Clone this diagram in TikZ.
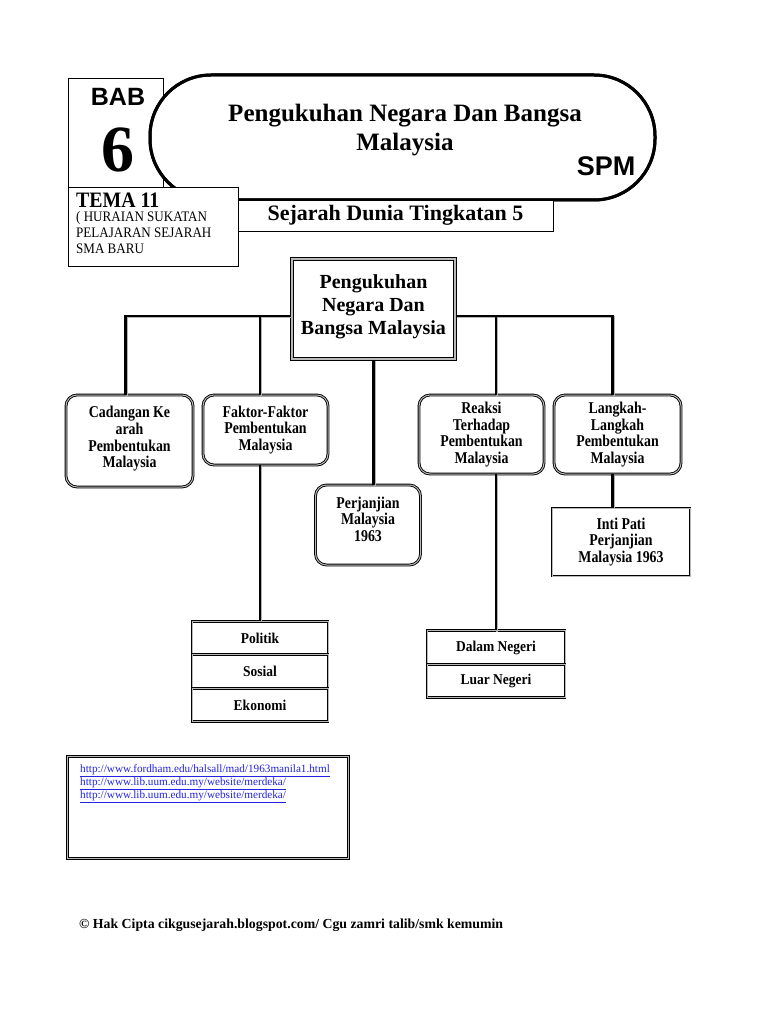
\documentclass[tikz,border=0pt]{standalone}
\usepackage{fontspec}
\setmainfont{Liberation Serif}
\newfontfamily\sansfont{Liberation Sans}
\newfontfamily\condfont[FakeStretch=0.84]{Liberation Serif}
\newfontfamily\semifont[FakeStretch=0.9]{Liberation Serif}
\usetikzlibrary{calc}
\definecolor{linkblue}{RGB}{35,35,225}
\begin{document}
\begin{tikzpicture}[x=1pt,y=-1pt,
  dbl/.style={draw=black, line width=0.9pt, double=gray!55, double distance=1pt, fill=white},
  rbox/.style={dbl, rounded corners=11pt, align=center, font=\condfont\fontsize{16.5}{16.7}\selectfont\bfseries, inner sep=0pt},
  sbox/.style={dbl, align=center, font=\condfont\fontsize{16.5}{16.7}\selectfont\bfseries, inner sep=0pt},
  lbox/.style={dbl, align=center, font=\semifont\fontsize{15}{16}\selectfont\bfseries, inner sep=0pt},
  conn/.style={draw=black, line width=2.3pt, preaction={draw=gray!60, line width=2.3pt, transform canvas={shift={(1.3pt,-1.3pt)}}}},
  plain/.style={draw=black, line width=0.7pt, fill=white},
  link/.style={anchor=west, inner sep=0pt, text=linkblue, font=\fontsize{11.2}{13}\selectfont},
  small/.style={anchor=base west, inner sep=0pt, font=\semifont\fontsize{14.5}{15}\selectfont},
]
\useasboundingbox (0,0) rectangle (768,1024);
\fill[white] (0,0) rectangle (768,1024);

% header
\node[plain, minimum width=95pt, minimum height=109pt, inner sep=0pt] (babbox) at (115.5,132.5) {};
\draw[line width=3pt, fill=white, rounded corners=61pt] (150,75) rectangle (655,200);
\node[font=\sansfont\fontsize{27}{28}\selectfont\bfseries, inner sep=0pt] (spm) at (606,166) {SPM};
\draw[line width=3pt, rounded corners=61pt] (150,75) rectangle (655,200);
\node[plain, minimum width=170pt, minimum height=79pt, inner sep=0pt] (temabox) at (153,226.5) {};
\node[plain, minimum width=315pt, minimum height=31pt, inner sep=0pt, font=\fontsize{22}{22}\selectfont\bfseries] (dunia) at (395.5,215.5) {Sejarah Dunia Tingkatan 5};
\node[font=\sansfont\fontsize{25}{26}\selectfont\bfseries, inner sep=0pt] (bab) at (118,97) {BAB};
\node[font=\fontsize{66}{66}\selectfont\bfseries, inner sep=0pt] (six) at (118,150) {6};
\node[align=center, font=\fontsize{25}{29}\selectfont\bfseries, inner sep=0pt] (title) at (405,130) {Pengukuhan Negara Dan Bangsa\\Malaysia};
\node[anchor=base west, font=\semifont\fontsize{22}{22}\selectfont\bfseries, inner sep=0pt] (tema) at (76,208) {TEMA 11};
\node[small] (hur1) at (76,222) {( HURAIAN SUKATAN};
\node[small] (hur2) at (76,237.5) {PELAJARAN SEJARAH};
\node[small] (hur3) at (76,253) {SMA BARU};

% main
\node[draw=black, fill=white, line width=1.6pt, double=gray!55, double distance=1.6pt, minimum width=163pt, minimum height=100pt, align=center, inner sep=0pt, font=\fontsize{20}{23}\selectfont\bfseries] (main) at (373.5,309) {Pengukuhan\\Negara Dan\\Bangsa Malaysia\\[-15pt]};

% level 2
\node[rbox, minimum width=127pt, minimum height=92pt] (cad) at (129.5,441) {Cadangan Ke\\arah\\Pembentukan\\Malaysia\\[-8.7pt]};
\node[rbox, minimum width=125pt, minimum height=70pt] (fak) at (265.5,430) {Faktor-Faktor\\Pembentukan\\Malaysia};
\node[rbox, minimum width=125pt, minimum height=79pt] (rea) at (481.5,434.5) {Reaksi\\Terhadap\\Pembentukan\\Malaysia};
\node[rbox, minimum width=127pt, minimum height=79pt] (lan) at (617.5,434.5) {Langkah-\\Langkah\\Pembentukan\\Malaysia};
\node[rbox, minimum width=105pt, minimum height=80pt] (per) at (368,525) {Perjanjian\\Malaysia\\1963\\[-4.7pt]};
\node[sbox, minimum width=138pt, minimum height=68pt] (inti) at (621,542) {Inti Pati\\Perjanjian\\Malaysia 1963};

% level 3
\node[lbox, minimum width=136pt, minimum height=33.7pt] (pol) at (260,638) {Politik};
\node[lbox, minimum width=136pt, minimum height=33.7pt] (sos) at (260,671.5) {Sosial};
\node[lbox, minimum width=136pt, minimum height=33.7pt] (eko) at (260,705) {Ekonomi};
\node[lbox, minimum width=138pt, minimum height=33.5pt] (dal) at (496,647.5) {Dalam Negeri};
\node[lbox, minimum width=138pt, minimum height=33.5pt] (lua) at (496,681) {Luar Negeri};

% connectors
\coordinate (yl) at (0,316);
\draw[conn] ([xshift=-4pt]cad.north) |- (main.west |- yl);
\draw[conn] (pol.north |- fak.north) -- (pol.north |- yl);
\draw[conn] ([xshift=-5pt]lan.north) |- (main.east |- yl);
\draw[conn] (dal.north |- rea.north) -- (dal.north |- yl);
\draw[conn] (main.south) -- (main.south |- per.north);
\draw[conn] (pol.north |- fak.south) -- (pol.north);
\draw[conn] (dal.north |- rea.south) -- (dal.north);
\draw[conn] ([xshift=-5pt]lan.south) -- ([xshift=-5pt]lan.south |- inti.north);

% references
\node[draw=black, line width=1.2pt, double=gray!55, double distance=0.8pt, minimum width=281pt, minimum height=102pt, inner sep=0pt] (urlbox) at (208,807.5) {};
\node[link] (u1) at (80,771) {\underline{http://www.fordham.edu/halsall/mad/1963manila1.html}};
\node[link] (u2) at (80,784) {\underline{http://www.lib.uum.edu.my/website/merdeka/}};
\node[link] (u3) at (80,797) {\underline{http://www.lib.uum.edu.my/website/merdeka/}};

\node[anchor=west, inner sep=0pt, font=\fontsize{13.8}{15}\selectfont\bfseries] (copy) at (79,925) {\textcopyright{} Hak Cipta cikgusejarah.blogspot.com/ Cgu zamri talib/smk kemumin};
\end{tikzpicture}
\end{document}
